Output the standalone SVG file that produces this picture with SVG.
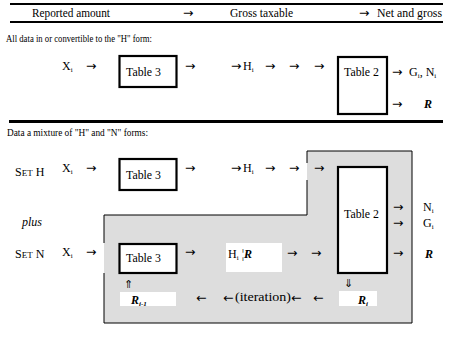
<svg xmlns="http://www.w3.org/2000/svg" width="452" height="338" viewBox="0 0 452 338">
<style>
.t{font-family:"Liberation Serif","DejaVu Serif","Times New Roman",serif;font-size:12px;fill:#000}
.p{font-family:"Liberation Serif","DejaVu Serif","Times New Roman",serif;font-size:11px;fill:#000}
.ar{font-family:"DejaVu Sans",sans-serif;font-size:12.5px;fill:#000}
.dar{font-family:"DejaVu Sans",sans-serif;font-size:11px;fill:#000}
.bi{font-weight:bold;font-style:italic}
.sub{font-size:7px}
.box{fill:#fff;stroke:#000;stroke-width:2.2}
.wb{fill:#fff;stroke:none}
.rule{stroke:#000}
.edge{stroke:#000;stroke-width:1;fill:none}
</style>
<rect width="452" height="338" fill="#fff"/>
<g id="header">
<line class="rule" x1="10" y1="4" x2="443" y2="4" stroke-width="2"/>
<line class="rule" x1="10" y1="22" x2="443" y2="22" stroke-width="2"/>
<text class="t" x="32" y="17" textLength="78" lengthAdjust="spacingAndGlyphs">Reported amount</text>
<text class="ar" x="183" y="17">→</text>
<text class="t" x="230" y="17" textLength="63" lengthAdjust="spacingAndGlyphs">Gross taxable</text>
<text class="ar" x="359" y="17">→</text>
<text class="t" x="377" y="17" textLength="65" lengthAdjust="spacingAndGlyphs">Net and gross</text>
</g>
<g id="caption1"><text class="p" x="6" y="42" textLength="146" lengthAdjust="spacingAndGlyphs">All data in or convertible to the "H" form:</text></g>
<line class="rule" x1="9" y1="121.5" x2="443" y2="121.5" stroke-width="3"/>
<g id="caption2"><text class="p" x="7" y="136" textLength="141" lengthAdjust="spacingAndGlyphs">Data a mixture of "H" and "N" forms:</text></g>

<g id="mixed-region">
<path d="M307,151 H412 V323 H104 V215 H307 Z" fill="#dddddd" stroke="none"/>
<path class="edge" d="M307,163 V151 H412 V323 H104 V273"/>
<path class="edge" d="M104,243 V215 H307 V180"/>
</g>

<g id="row1-input"><text class="t" x="62" y="70">X<tspan class="sub" dy="2">i</tspan></text></g>
<g id="row1-table3"><rect class="box" x="119.5" y="56" width="57" height="31"/><text class="t" x="126" y="76" textLength="35" lengthAdjust="spacingAndGlyphs">Table 3</text></g>
<g id="row1-h"><text class="t" x="243" y="70">H<tspan class="sub" dy="2">i</tspan></text></g>
<g id="row1-table2"><rect class="box" x="338" y="57" width="49" height="57"/><text class="t" x="344" y="76" textLength="35" lengthAdjust="spacingAndGlyphs">Table 2</text></g>
<g id="row1-out1"><text class="t" x="409" y="76">G<tspan class="sub" dy="2">i</tspan><tspan dy="-2">, N</tspan><tspan class="sub" dy="2">i</tspan></text></g>
<g id="row1-out2"><text class="t bi" x="424" y="108">R</text></g>

<g id="setH"><text class="t" x="15" y="176">S<tspan font-size="9">ET</tspan> H</text></g>
<g id="row2-input"><text class="t" x="62" y="172">X<tspan class="sub" dy="2">i</tspan></text></g>
<g id="row2-table3"><rect class="box" x="119.5" y="159" width="57" height="31"/><text class="t" x="126" y="179" textLength="35" lengthAdjust="spacingAndGlyphs">Table 3</text></g>
<g id="row2-h"><text class="t" x="243" y="172">H<tspan class="sub" dy="2">i</tspan></text></g>
<g id="plus"><text class="t" x="22" y="226" font-style="italic">plus</text></g>

<g id="mixed-table2"><rect class="box" x="338" y="167" width="49" height="106"/><text class="t" x="344" y="218" textLength="35" lengthAdjust="spacingAndGlyphs">Table 2</text></g>
<g id="out-N"><text class="t" x="423" y="211">N<tspan class="sub" dy="2">i</tspan></text></g>
<g id="out-G"><text class="t" x="423" y="227">G<tspan class="sub" dy="2">i</tspan></text></g>
<g id="out-R"><text class="t bi" x="425" y="258">R</text></g>

<g id="setN"><text class="t" x="15" y="258">S<tspan font-size="9">ET</tspan> N</text></g>
<g id="row3-input"><text class="t" x="62" y="256">X<tspan class="sub" dy="2">i</tspan></text></g>
<g id="row3-table3"><rect class="box" x="119.5" y="244" width="57" height="29"/><text class="t" x="126" y="262" textLength="35" lengthAdjust="spacingAndGlyphs">Table 3</text></g>
<g id="row3-hr"><rect class="wb" x="226" y="243" width="56" height="29"/><text class="t" x="228" y="258">H<tspan class="sub" dy="2">i</tspan><tspan dy="-2"> ¦</tspan><tspan class="bi">R</tspan></text></g>
<g id="r-prev"><rect class="wb" x="120" y="292" width="56" height="14"/><text class="t bi" x="131" y="304">R<tspan class="sub" dy="2">i-1</tspan></text></g>
<g id="r-cur"><rect class="wb" x="339" y="291" width="38" height="15"/><text class="t bi" x="358" y="304">R<tspan class="sub" dy="2">i</tspan></text></g>

<g id="connectors">
<text class="ar" x="86" y="70">→</text>
<text class="ar" x="185" y="70">→</text>
<text class="ar" x="231" y="70">→</text>
<text class="ar" x="265" y="70">→</text>
<text class="ar" x="289" y="70">→</text>
<text class="ar" x="314" y="70">→</text>
<text class="ar" x="392" y="76">→</text>
<text class="ar" x="392" y="108">→</text>

<text class="ar" x="86" y="172">→</text>
<text class="ar" x="185" y="172">→</text>
<text class="ar" x="231" y="172">→</text>
<text class="ar" x="265" y="172">→</text>
<text class="ar" x="289" y="172">→</text>
<text class="ar" x="314" y="172">→</text>

<text class="ar" x="393" y="211">→</text>
<text class="ar" x="393" y="227">→</text>
<text class="ar" x="393" y="257">→</text>

<text class="ar" x="86" y="256">→</text>
<text class="ar" x="185" y="256">→</text>
<text class="ar" x="287" y="257">→</text>
<text class="ar" x="311" y="257">→</text>

<text class="dar" x="124" y="288">⇑</text>
<text class="dar" x="344" y="287">⇓</text>
<text class="ar" x="196" y="302">←</text>
<text class="ar" x="223" y="302">←</text>
<text class="t" x="235" y="301" textLength="56" lengthAdjust="spacingAndGlyphs">(iteration)</text>
<text class="ar" x="291" y="302">←</text>
<text class="ar" x="313" y="302">←</text>
</g>
</svg>
